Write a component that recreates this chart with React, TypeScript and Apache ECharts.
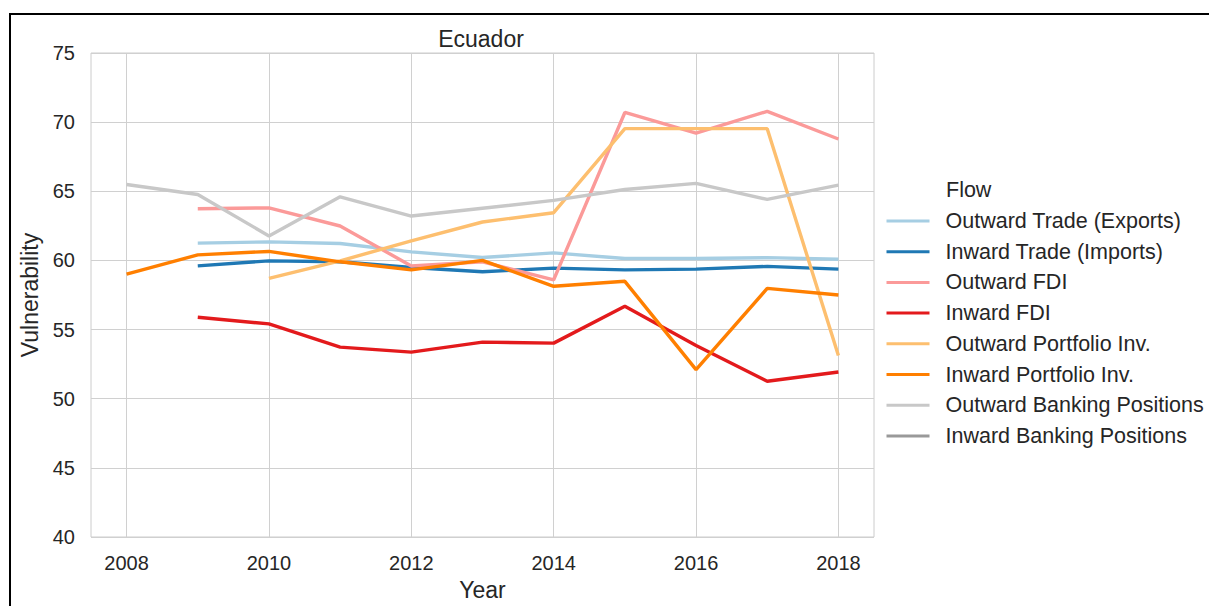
import React, { useEffect, useRef } from "react";
import * as echarts from "echarts";

const years = [2008, 2009, 2010, 2011, 2012, 2013, 2014, 2015, 2016, 2017, 2018];
const xTickLabels = [2008, 2010, 2012, 2014, 2016, 2018];

const seriesNames = [
  "Outward Trade (Exports)",
  "Inward Trade (Imports)",
  "Outward FDI",
  "Inward FDI",
  "Outward Portfolio Inv.",
  "Inward Portfolio Inv.",
  "Outward Banking Positions",
  "Inward Banking Positions",
];
const seriesColors = ["#a6cee3", "#1f78b4", "#fb9a99", "#e31a1c", "#fdbf6f", "#ff7f00", "#c8c8c8", "#999999"];

const outwardTrade = [null, 61.25, 61.34, 61.22, 60.62, 60.21, 60.55, 60.14, 60.14, 60.2, 60.09];
const inwardTrade = [null, 59.61, 59.97, 59.9, 59.49, 59.18, 59.44, 59.32, 59.37, 59.57, 59.37];
const outwardFDI = [null, 63.74, 63.8, 62.49, 59.6, 59.9, 58.6, 70.7, 69.21, 70.78, 68.78];
const inwardFDI = [null, 55.89, 55.41, 53.73, 53.37, 54.09, 54.02, 56.68, 53.85, 51.26, 51.93];
const outwardPortfolio = [null, null, 58.7, 59.97, 61.41, 62.78, 63.45, 69.53, 69.53, 69.53, 53.13];
const inwardPortfolio = [59.01, 60.4, 60.65, 59.9, 59.32, 60.0, 58.13, 58.49, 52.1, 57.98, 57.5];
const outwardBanking = [65.49, 64.77, 61.77, 64.6, 63.21, 63.77, 64.34, 65.13, 65.57, 64.41, 65.45];
const inwardBanking: (number | null)[] = [];

const seriesValues = [
  outwardTrade,
  inwardTrade,
  outwardFDI,
  inwardFDI,
  outwardPortfolio,
  inwardPortfolio,
  outwardBanking,
  inwardBanking,
];

const FONT = "Liberation Sans, Arial, Helvetica, sans-serif";
const TEXT = "#262626";

export default function App() {
  const ref = useRef<HTMLDivElement>(null);
  useEffect(() => {
    if (!ref.current) return;
    const chart = echarts.init(ref.current, undefined, { renderer: "svg" });
    const series = seriesNames.map((name, i) => ({
      name,
      type: "line",
      data: years
        .map((y, j) => [y, seriesValues[i][j]])
        .filter((p) => p[1] !== null && p[1] !== undefined),
      showSymbol: false,
      symbol: "none",
      lineStyle: { width: 3.4, color: seriesColors[i] },
      itemStyle: { color: seriesColors[i] },
      color: seriesColors[i],
    }));
    chart.setOption({
      animation: false,
      textStyle: { fontFamily: FONT },
      title: {
        text: "Ecuador",
        left: 476,
        textAlign: "center",
        top: 22,
        textStyle: { fontSize: 23, fontWeight: "normal", color: TEXT, fontFamily: FONT },
      },
      grid: {
        left: 91,
        top: 53,
        width: 783,
        height: 486,
        show: true,
        borderColor: "#cccccc",
        borderWidth: 1,
        backgroundColor: "transparent",
      },
      xAxis: {
        type: "value",
        min: 2007.5,
        max: 2018.5,
        name: "Year",
        nameLocation: "middle",
        nameGap: 41,
        nameTextStyle: { fontSize: 23, color: TEXT, fontFamily: FONT },
        axisLine: { show: false },
        axisTick: { show: false, customValues: xTickLabels },
        axisLabel: {
          customValues: xTickLabels,
          fontSize: 20,
          color: TEXT,
          margin: 16,
          fontFamily: FONT,
          formatter: (v: number) => String(v),
        },
        splitLine: { show: true, lineStyle: { color: "#d0d0d0", width: 1 } },
      },
      yAxis: {
        type: "value",
        min: 40,
        max: 75,
        interval: 5,
        name: "Vulnerability",
        nameLocation: "middle",
        nameGap: 48,
        nameTextStyle: { fontSize: 23, color: TEXT, fontFamily: FONT },
        axisLine: { show: false },
        axisTick: { show: false },
        axisLabel: { fontSize: 20, color: TEXT, margin: 16, fontFamily: FONT },
        splitLine: { show: true, lineStyle: { color: "#d0d0d0", width: 1 } },
      },
      legend: {
        orient: "vertical",
        left: 885,
        top: 210,
        padding: 0,
        itemWidth: 43,
        itemHeight: 20,
        itemGap: 8.7,
        data: seriesNames,
        itemStyle: { opacity: 0 },
        lineStyle: { width: 3 },
        textStyle: {
          fontSize: 21.5,
          lineHeight: 20,
          height: 20,
          color: TEXT,
          fontFamily: FONT,
          padding: [0, 0, 0, 11],
        },
        selectedMode: false,
      },
      graphic: [
        {
          type: "text",
          left: 946,
          top: 179,
          style: { text: "Flow", fontSize: 21.5, fill: TEXT, fontFamily: FONT },
        },
      ],
      series,
    });
    return () => chart.dispose();
  }, []);
  return (
    <>
      <div
        ref={ref}
        style={{ position: "absolute", left: 0, top: 0, width: 1209, height: 606, background: "#fff" }}
      />
      <div
        style={{
          position: "absolute",
          left: 9,
          top: 13,
          width: 1200,
          height: 593,
          borderTop: "2px solid #000",
          borderLeft: "2px solid #000",
          pointerEvents: "none",
        }}
      />
    </>
  );
}
